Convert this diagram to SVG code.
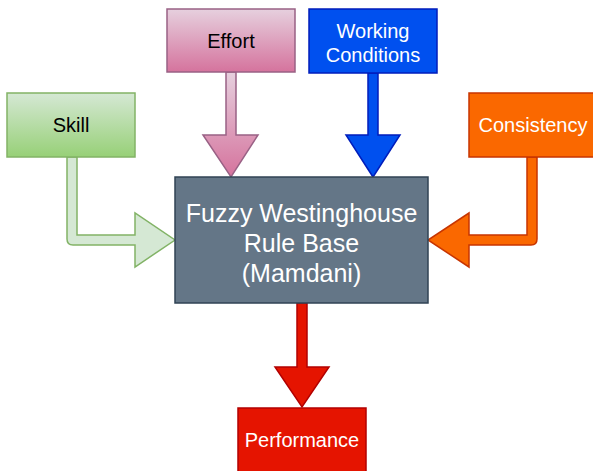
<svg xmlns="http://www.w3.org/2000/svg" width="593" height="471" viewBox="0 0 593 471">
<defs>
<linearGradient id="gGreen" x1="0" y1="0" x2="0" y2="1"><stop offset="0" stop-color="#d5e8d4"/><stop offset="1" stop-color="#97d077"/></linearGradient>
<linearGradient id="gPink" x1="0" y1="0" x2="0" y2="1"><stop offset="0" stop-color="#e6d0de"/><stop offset="1" stop-color="#d5739d"/></linearGradient>
<style>
text{font-family:"Liberation Sans",Arial,sans-serif;text-anchor:middle;font-size:20px}
.w{fill:#ffffff}
.k{fill:#000000}
rect,path{stroke-width:1.5}
</style>
</defs>
<g id="connectors">
<path d="M67,157 L67,239 Q67,245 73,245 L135,245 L135,267 L175,240 L135,213 L135,235 L77,235 L77,157 Z" fill="#d5e8d4" stroke="#82b366"/>
<path d="M226,72 L226,135 L203,135 L231,177 L258,135 L236,135 L236,72 Z" fill="url(#gPink)" stroke="#996185"/>
<path d="M368,73 L368,135 L346,135 L373,177 L400,135 L378,135 L378,73 Z" fill="#0050ef" stroke="#001DBC"/>
<path d="M537,157 L537,239 Q537,245 531,245 L469,245 L469,267 L428,240 L469,213 L469,235 L527,235 L527,157 Z" fill="#fa6800" stroke="#C73500"/>
<path d="M297,303 L297,367 L275,367 L302,407 L329,367 L307,367 L307,303 Z" fill="#e51400" stroke="#B20000"/>
</g>
<g id="skill">
<rect x="7" y="93" width="128" height="64" fill="url(#gGreen)" stroke="#82b366"/>
<text x="71" y="132" class="k">Skill</text>
</g>
<g id="effort">
<rect x="167" y="9" width="128" height="63" fill="url(#gPink)" stroke="#996185"/>
<text x="231" y="48" class="k">Effort</text>
</g>
<g id="working">
<rect x="309" y="9" width="128" height="64" fill="#0050ef" stroke="#001DBC"/>
<text x="373" y="38" class="w">Working</text>
<text x="373" y="62" class="w">Conditions</text>
</g>
<g id="consistency">
<rect x="469" y="93" width="128" height="64" fill="#fa6800" stroke="#C73500"/>
<text x="533" y="132" class="w">Consistency</text>
</g>
<g id="rulebase">
<rect x="175" y="177" width="253" height="126" fill="#647687" stroke="#314354"/>
<text x="301.5" y="222" class="w" style="font-size:25px">Fuzzy Westinghouse</text>
<text x="301.5" y="252" class="w" style="font-size:25px">Rule Base</text>
<text x="301.5" y="282" class="w" style="font-size:25px">(Mamdani)</text>
</g>
<g id="performance">
<rect x="238" y="408" width="128" height="64" fill="#e51400" stroke="#B20000"/>
<text x="302" y="447" class="w">Performance</text>
</g>
</svg>
